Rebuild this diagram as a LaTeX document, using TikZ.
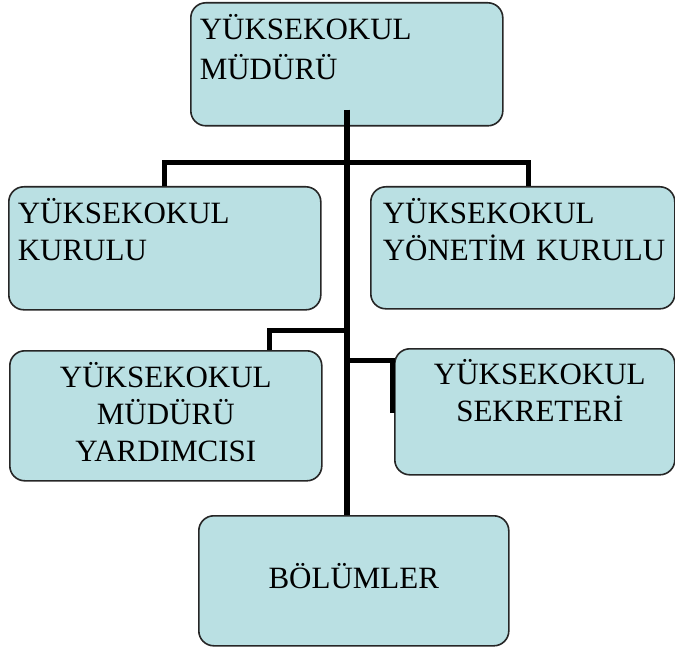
\documentclass[tikz,border=0pt]{standalone}
\usepackage{fontspec}
\setmainfont{Liberation Serif}
\usepackage{tikz}
\definecolor{boxblue}{RGB}{186,224,227}
\tikzset{orgbox/.style={draw=black!85,line width=1.6pt,fill=boxblue,rounded corners=15pt,anchor=north west,inner ysep=0pt,font=\fontsize{31}{37}\selectfont},
	orgline/.style={line width=5pt}}

\begin{document}
\begin{tikzpicture}[x=1pt,y=-1pt] % 1pt = 1 pixel of the picture
	\useasboundingbox (0,0) rectangle (675,650);
	\node[orgbox,inner xsep=9pt,text width=294pt,align=left,text height=37pt,text depth=86pt,font=\fontsize{31}{40}\selectfont](B0) at (190,2) {YÜKSEKOKUL\\MÜDÜRÜ};
	\node[orgbox,inner xsep=9pt,text width=294pt,align=left,text height=37pt,text depth=86pt](B1) at (8,186) {YÜKSEKOKUL\\KURULU};
	\node[orgbox,inner xsep=12pt,text width=280pt,align=left,text height=37pt,text depth=85pt](B2) at (370,186) {YÜKSEKOKUL\\\mbox{YÖNETİM KURULU}};
	\node[orgbox,inner xsep=0pt,text width=312pt,align=center,text height=37pt,text depth=93pt](B3) at (9,350) {YÜKSEKOKUL\\MÜDÜRÜ\\YARDIMCISI};
	\node[orgbox,inner xsep=0pt,text width=280pt,align=center,text height=36pt,text depth=90pt](B4) at (394,348) {\hspace*{10pt}YÜKSEKOKUL\\\hspace*{10pt}SEKRETERİ};
	\node[orgbox,inner xsep=0pt,text width=310pt,align=center,text height=73pt,text depth=57pt](B5) at (198,515) {BÖLÜMLER};
	\coordinate (J1) at (346,163);\coordinate (J2) at (346,330);\coordinate (J3) at (346,360);
	\draw[line width=6pt] ([yshift=17pt]B0.south) -- (B0.south |- B5.north);
	\draw[orgline] (B1.north) |- (J1) -| ([xshift=6pt]B2.north);
	\draw[orgline] (J2) -| ([xshift=104pt]B3.north);
	\draw[orgline] (J3) -| ([xshift=-2pt,yshift=-65pt]B4.north west);
\end{tikzpicture}
\end{document}
